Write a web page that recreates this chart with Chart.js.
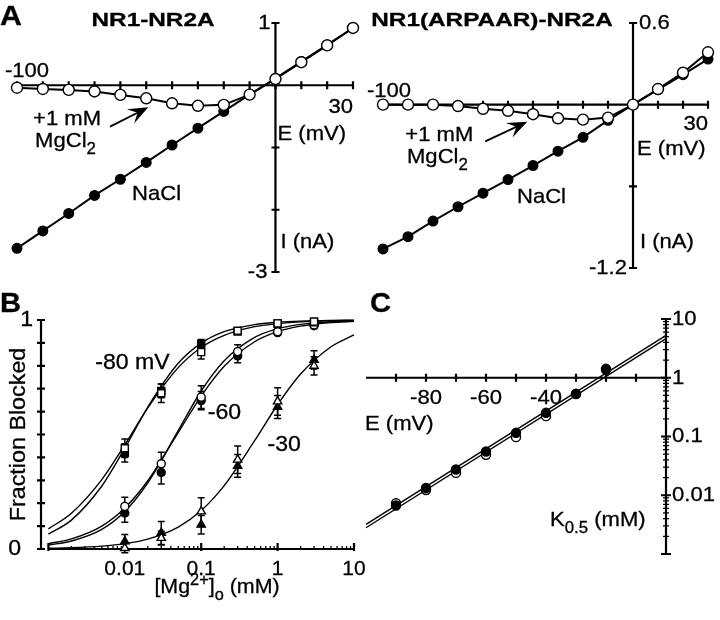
<!DOCTYPE html>
<html>
<head>
<meta charset="utf-8">
<script src="https://cdn.jsdelivr.net/npm/chart.js@4.4.1/dist/chart.umd.min.js"></script>
<style>
  body { margin: 0; background: #fff; width: 720px; height: 620px; overflow: hidden; }
  canvas { position: absolute; left: 0; top: 0; }
</style>
</head>
<body>
<canvas id="ivWt" width="720" height="620"></canvas>
<canvas id="ivMut" width="720" height="620"></canvas>
<canvas id="block" width="720" height="620"></canvas>
<canvas id="kHalf" width="720" height="620"></canvas>
<script>
// Panel A - I-V curves, NaCl alone (filled) and +1 mM MgCl2 (open)
const ivVolt = [-100, -90, -80, -70, -60, -50, -40, -30, -20, -10, 0, 10, 20, 30];
const wtNaCl = [-2.62, -2.34, -2.06, -1.77, -1.51, -1.24, -0.96, -0.69, -0.42, -0.15, 0.11, 0.38, 0.65, 0.92];
const wtMg   = [-0.04, -0.06, -0.075, -0.10, -0.155, -0.21, -0.29, -0.33, -0.315, -0.15, 0.10, 0.37, 0.64, 0.92];
const mutNaCl = [-1.06, -0.97, -0.855, -0.75, -0.65, -0.55, -0.447, -0.342, -0.24, -0.115, 0, 0.11, 0.22, 0.335];
const mutMg   = [0, 0, 0, -0.01, -0.03, -0.045, -0.07, -0.10, -0.11, -0.095, 0, 0.115, 0.235, 0.385];
const ivTicks = [-100, -90, -80, -70, -60, -50, -40, -30, -20, -10, 0, 10, 20, 30];
const wtTicksY = [1, 0, -1, -2, -3];
const mutTicksY = [0.6, 0, -0.6, -1.2];

// Panel B - fraction blocked vs [Mg2+]o (open = NR1-NR2A, filled = ARPAAR)
const mgConc = [0.01, 0.03, 0.1, 0.3, 1, 3];
const b80Open = [0.44, 0.68, 0.86, 0.953, 0.985, 0.993];
const b80Fill = [0.42, 0.69, 0.895, 0.95, 0.985, 0.99];
const b60Open = [0.186, 0.372, 0.663, 0.862, 0.949, 0.978];
const b60Fill = [0.157, 0.334, 0.648, 0.843, 0.945, 0.975];
const b30Open = [0.004, 0.048, 0.164, 0.39, 0.644, 0.80];
const b30Fill = [0.033, 0.07, 0.106, 0.363, 0.62, 0.826];
const e80Open = [0.04, 0.04, 0.03, 0.01, 0.01, 0.01];
const e80Fill = [0.04, 0.03, 0.02, 0.01, 0.01, 0.01];
const e60Open = [0.04, 0.05, 0.05, 0.03, 0.01, 0.01];
const e60Fill = [0.04, 0.05, 0.04, 0.03, 0.01, 0.01];
const e30Open = [0.02, 0.03, 0.06, 0.06, 0.06, 0.04];
const e30Fill = [0.03, 0.05, 0.04, 0.05, 0.05, 0.04];
// fitted curves
const fitConc = [0.001, 0.002, 0.005, 0.01, 0.02, 0.05, 0.1, 0.2, 0.5, 1, 2, 5, 10];
const fit80a = [0.088, 0.156, 0.303, 0.455, 0.616, 0.792, 0.88, 0.933, 0.971, 0.984, 0.992, 0.9965, 0.998];
const fit80b = [0.065, 0.126, 0.275, 0.44, 0.62, 0.811, 0.899, 0.949, 0.98, 0.99, 0.995, 0.998, 0.999];
const fit60a = [0.023, 0.044, 0.10, 0.179, 0.298, 0.508, 0.668, 0.798, 0.905, 0.949, 0.973, 0.989, 0.994];
const fit60b = [0.017, 0.035, 0.086, 0.164, 0.289, 0.517, 0.69, 0.822, 0.924, 0.962, 0.981, 0.993, 0.9965];
const fit30  = [0.003, 0.0053, 0.0124, 0.0233, 0.0433, 0.0958, 0.168, 0.277, 0.473, 0.63, 0.764, 0.883, 0.935];
const blockTicksY = [0, 0.1, 0.2, 0.3, 0.4, 0.5, 0.6, 0.7, 0.8, 0.9, 1];
const decades = [0.001, 0.01, 0.1, 1, 10];
const concLabels = ['0.01', '0.1', '1', '10'];

// Panel C - K0.5 vs voltage
const kVolt = [-90, -80, -70, -60, -50, -40, -30, -20];
const kFill = [0.0067, 0.0133, 0.0274, 0.0555, 0.1155, 0.253, 0.533, 1.37];
const kOpen = [0.0073, 0.0123, 0.024, 0.0487, 0.0975, 0.222, 0.53, 1.42];
const kFitVolt = [-100, 0];
const kFitA = [0.0032, 5.27];
const kFitB = [0.0028, 4.63];
const kTicksX = [-90, -80, -70, -60, -50, -40, -30, -20, -10];
const kLabelsX = [-80, -60, -40];
const kDecades = [0.001, 0.01, 0.1, 1, 10];
const kLabelsY = ['10', '1', '0.1', '0.01'];

const FONT = '"Liberation Sans", Arial, sans-serif';

function pts(xs, ys) {
    return xs.map((v, i) => ({ x: v, y: ys[i] }));
}

// text with optional sub/superscripts, slightly widened and darkened like the scan
function drawText(ctx, parts, x, y, o) {
    o = o || {};
    const size = o.size || 21, sx = o.sx || 1.05;
    const segs = (Array.isArray(parts) ? parts : [parts]).map(p => typeof p === 'string' ? { t: p } : p);
    const fontFor = s => (o.bold ? 'bold ' : '') + (s.sub || s.sup ? Math.round(size * 0.74) : size) + 'px ' + FONT;
    let w = 0;
    segs.forEach(s => { ctx.font = fontFor(s); s.w = ctx.measureText(s.t).width; w += s.w; });
    ctx.save();
    ctx.translate(x, y);
    if (o.rot) ctx.rotate(o.rot);
    ctx.scale(sx, 1);
    ctx.fillStyle = '#000';
    ctx.strokeStyle = '#000';
    ctx.lineWidth = 0.3;
    ctx.textAlign = 'left';
    ctx.textBaseline = o.base || 'alphabetic';
    let cx = o.align === 'right' ? -w : o.align === 'center' ? -w / 2 : 0;
    segs.forEach(s => {
        ctx.font = fontFor(s);
        const dy = s.sub ? size * 0.32 : s.sup ? -size * 0.38 : 0;
        ctx.fillText(s.t, cx, dy);
        ctx.strokeText(s.t, cx, dy);
        cx += s.w;
    });
    ctx.restore();
}

function hAxis(ctx, sx, sy, at, from, to, ticks, up, down) {
    const y = sy.getPixelForValue(at);
    ctx.beginPath();
    if (from !== null) {
        ctx.moveTo(sx.getPixelForValue(from), y);
        ctx.lineTo(sx.getPixelForValue(to), y);
    }
    ticks.forEach(v => {
        const x = sx.getPixelForValue(v);
        ctx.moveTo(x, y - up);
        ctx.lineTo(x, y + down);
    });
    ctx.stroke();
}

function vAxis(ctx, sx, sy, at, from, to, ticks, left, right) {
    const x = sx.getPixelForValue(at);
    ctx.beginPath();
    if (from !== null) {
        ctx.moveTo(x, sy.getPixelForValue(from));
        ctx.lineTo(x, sy.getPixelForValue(to));
    }
    ticks.forEach(v => {
        const y = sy.getPixelForValue(v);
        ctx.moveTo(x - left, y);
        ctx.lineTo(x + right, y);
    });
    ctx.stroke();
}

function minorTicks(decs) {
    const out = [];
    decs.slice(0, -1).forEach(d => { for (let k = 2; k < 10; k++) out.push(d * k); });
    return out;
}

function arrow(ctx, sx, sy, x0, y0, x1, y1) {
    const ax = sx.getPixelForValue(x0), ay = sy.getPixelForValue(y0);
    const bx = sx.getPixelForValue(x1), by = sy.getPixelForValue(y1);
    const a = Math.atan2(by - ay, bx - ax), c = Math.cos(a), s = Math.sin(a);
    const L = 20, W = 8;
    ctx.lineWidth = 1.8;
    ctx.beginPath();
    ctx.moveTo(ax, ay);
    ctx.lineTo(bx - c * 11, by - s * 11);
    ctx.stroke();
    ctx.beginPath();
    ctx.moveTo(bx, by);
    ctx.lineTo(bx - c * L - s * W, by - s * L + c * W);
    ctx.lineTo(bx - c * L * 0.6, by - s * L * 0.6);
    ctx.lineTo(bx - c * L + s * W, by - s * L - c * W);
    ctx.closePath();
    ctx.fill();
}

function errorBars(chart) {
    const ctx = chart.ctx, sx = chart.scales.x, sy = chart.scales.y;
    ctx.lineWidth = 1.5;
    chart.data.datasets.forEach(ds => {
        if (!ds.err) return;
        ds.data.forEach((p, i) => {
            const x = sx.getPixelForValue(p.x);
            const y0 = sy.getPixelForValue(p.y - ds.err[i]), y1 = sy.getPixelForValue(p.y + ds.err[i]);
            ctx.beginPath();
            ctx.moveTo(x, y0); ctx.lineTo(x, y1);
            ctx.moveTo(x - 3.5, y0); ctx.lineTo(x + 3.5, y0);
            ctx.moveTo(x - 3.5, y1); ctx.lineTo(x + 3.5, y1);
            ctx.stroke();
        });
    });
}

function marks(data, style, filled, r, extra) {
    return Object.assign({
        data: data, showLine: false, clip: false,
        pointStyle: style, pointRadius: r,
        pointBackgroundColor: filled ? '#000' : '#fff',
        pointBorderColor: '#000', pointBorderWidth: 1.4
    }, extra || {});
}

function curve(data, w, extra) {
    return Object.assign({
        data: data, showLine: true, clip: false, pointRadius: 0,
        borderColor: '#000', borderWidth: w
    }, extra || {});
}

function panel(id, pad, xOpt, yOpt, datasets, before, after) {
    return new Chart(document.getElementById(id), {
        type: 'scatter',
        data: { datasets: datasets },
        options: {
            responsive: false,
            animation: false,
            events: [],
            layout: { padding: pad },
            plugins: { legend: { display: false }, tooltip: { enabled: false } },
            scales: {
                x: Object.assign({ display: false, bounds: 'data' }, xOpt),
                y: Object.assign({ display: false, bounds: 'data' }, yOpt)
            }
        },
        plugins: [{
            id: 'deco',
            beforeDatasetsDraw(chart) {
                const ctx = chart.ctx;
                ctx.save();
                ctx.strokeStyle = '#000';
                ctx.fillStyle = '#000';
                before(ctx, chart.scales.x, chart.scales.y, chart);
                ctx.restore();
            },
            afterDatasetsDraw(chart) {
                const ctx = chart.ctx;
                ctx.save();
                ctx.strokeStyle = '#000';
                ctx.fillStyle = '#000';
                after(ctx, chart.scales.x, chart.scales.y, chart);
                ctx.restore();
            }
        }]
    });
}

const ivLine = { showLine: true, borderColor: '#000', borderWidth: 2 };

// ---------- A, left: NR1-NR2A ----------
panel('ivWt', { left: 17, right: 367, top: 23, bottom: 348 },
    { type: 'linear', min: -100, max: 30 },
    { type: 'linear', min: -3, max: 1 },
    [
        marks(pts(ivVolt, wtMg), 'circle', false, 5.5, ivLine),
        marks(pts(ivVolt, wtNaCl), 'circle', true, 4.8, ivLine)
    ],
    (ctx, x, y) => {
        ctx.lineWidth = 2.2;
        hAxis(ctx, x, y, 0, -100, 30, ivTicks, 4, 4);
        vAxis(ctx, x, y, 0, -3, 1, wtTicksY, 4, 4);
    },
    (ctx, x, y) => {
        arrow(ctx, x, y, -64, -0.665, -49.2, -0.353);
        const ox = x.getPixelForValue(0), oy = y.getPixelForValue(0);
        drawText(ctx, 'A', 0, 25, { size: 28, bold: true, sx: 1.08 });
        drawText(ctx, 'NR1-NR2A', 153, 26, { size: 19, bold: true, sx: 1.28, align: 'center' });
        drawText(ctx, '-100', x.getPixelForValue(-100) - 12, oy - 8);
        drawText(ctx, '30', x.getPixelForValue(30), oy + 28, { align: 'right' });
        drawText(ctx, '1', ox - 5, y.getPixelForValue(1), { align: 'right', base: 'middle' });
        drawText(ctx, '-3', ox - 8, y.getPixelForValue(-3), { align: 'right', base: 'middle' });
        drawText(ctx, 'E (mV)', ox + 2, oy + 55);
        drawText(ctx, 'I (nA)', ox + 5, oy + 163);
        drawText(ctx, '+1 mM', x.getPixelForValue(-93.8), y.getPixelForValue(-0.64));
        drawText(ctx, ['MgCl', { t: '2', sub: true }], x.getPixelForValue(-93), y.getPixelForValue(-0.99));
        drawText(ctx, 'NaCl', x.getPixelForValue(-55.5), y.getPixelForValue(-1.845));
    });

// ---------- A, right: NR1(ARPAAR)-NR2A ----------
panel('ivMut', { left: 383, right: 12, top: 23, bottom: 352 },
    { type: 'linear', min: -100, max: 30 },
    { type: 'linear', min: -1.2, max: 0.6 },
    [
        marks(pts(ivVolt, mutMg), 'circle', false, 5.5, ivLine),
        marks(pts(ivVolt, mutNaCl), 'circle', true, 4.8, ivLine)
    ],
    (ctx, x, y) => {
        ctx.lineWidth = 2.2;
        hAxis(ctx, x, y, 0, -100, 30, ivTicks, 4, 4);
        vAxis(ctx, x, y, 0, -1.2, 0.6, mutTicksY, 4, 4);
    },
    (ctx, x, y) => {
        arrow(ctx, x, y, -59.1, -0.27, -42.3, -0.125);
        const ox = x.getPixelForValue(0), oy = y.getPixelForValue(0);
        drawText(ctx, 'NR1(ARPAAR)-NR2A', 492, 26, { size: 19, bold: true, sx: 1.28, align: 'center' });
        drawText(ctx, '-100', x.getPixelForValue(-100) - 16, oy - 8);
        drawText(ctx, '30', x.getPixelForValue(30), oy + 25, { align: 'right' });
        drawText(ctx, '0.6', ox + 6, y.getPixelForValue(0.6), { base: 'middle' });
        drawText(ctx, '-1.2', ox - 6, y.getPixelForValue(-1.2), { align: 'right', base: 'middle' });
        drawText(ctx, 'E (mV)', ox + 4, oy + 50);
        drawText(ctx, 'I (nA)', ox + 7, oy + 143);
        drawText(ctx, '+1 mM', x.getPixelForValue(-91.1), y.getPixelForValue(-0.27));
        drawText(ctx, ['MgCl', { t: '2', sub: true }], x.getPixelForValue(-90.4), y.getPixelForValue(-0.427));
        drawText(ctx, 'NaCl', x.getPixelForValue(-46.4), y.getPixelForValue(-0.725));
    });

// ---------- B: dose-response ----------
panel('block', { left: 41, right: 366, top: 320, bottom: 71 },
    { type: 'logarithmic', min: 0.0008, max: 10 },
    { type: 'linear', min: 0, max: 1 },
    [
        marks(pts(mgConc, b80Open), 'rect', false, 5, { err: e80Open }),
        marks(pts(mgConc, b80Fill), 'rect', true, 5, { err: e80Fill }),
        marks(pts(mgConc, b60Open), 'circle', false, 4, { err: e60Open }),
        marks(pts(mgConc, b60Fill), 'circle', true, 4, { err: e60Fill }),
        marks(pts(mgConc, b30Open), 'triangle', false, 4.8, { err: e30Open }),
        marks(pts(mgConc, b30Fill), 'triangle', true, 4.8, { err: e30Fill }),
        curve(pts(fitConc, fit80a), 1.4, { cubicInterpolationMode: 'monotone' }),
        curve(pts(fitConc, fit80b), 1.4, { cubicInterpolationMode: 'monotone' }),
        curve(pts(fitConc, fit60a), 1.4, { cubicInterpolationMode: 'monotone' }),
        curve(pts(fitConc, fit60b), 1.4, { cubicInterpolationMode: 'monotone' }),
        curve(pts(fitConc, fit30), 1.4, { cubicInterpolationMode: 'monotone' })
    ],
    (ctx, x, y, chart) => {
        ctx.lineWidth = 2.2;
        vAxis(ctx, x, y, x.min, 0, 1, blockTicksY, 4, 4);
        hAxis(ctx, x, y, 0, 0.001, 10, decades, 6, 2);
        ctx.lineWidth = 1.3;
        hAxis(ctx, x, y, 0, null, null, minorTicks(decades), 3, 0);
        errorBars(chart);
    },
    (ctx, x, y) => {
        const left = x.getPixelForValue(x.min), oy = y.getPixelForValue(0);
        drawText(ctx, 'B', 0, 312, { size: 27, bold: true, sx: 1.08 });
        drawText(ctx, '0', left - 20, oy, { align: 'right', base: 'middle', size: 22 });
        drawText(ctx, '1', left - 8, y.getPixelForValue(1), { align: 'right', base: 'middle', size: 22 });
        decades.slice(1).forEach((d, i) => {
            drawText(ctx, concLabels[i], x.getPixelForValue(d), oy + 26, { align: 'center', sx: 1.0 });
        });
        drawText(ctx, ['[Mg', { t: '2+', sup: true }, ']', { t: 'o', sub: true }, ' (mM)'], 217, oy + 44, { align: 'center', sx: 1.02 });
        drawText(ctx, 'Fraction Blocked', left - 16, (y.getPixelForValue(0) + y.getPixelForValue(1)) / 2,
            { align: 'center', rot: -Math.PI / 2, size: 22, sx: 1.06 });
        drawText(ctx, '-80 mV', x.getPixelForValue(0.0041), y.getPixelForValue(0.786), { size: 22 });
        drawText(ctx, '-60', x.getPixelForValue(0.1216), y.getPixelForValue(0.568), { size: 22 });
        drawText(ctx, '-30', x.getPixelForValue(0.738), y.getPixelForValue(0.429), { size: 22 });
    });

// ---------- C: K0.5 vs E ----------
panel('kHalf', { left: 366, right: 54, top: 319, bottom: 66 },
    { type: 'linear', min: -100, max: 0 },
    { type: 'logarithmic', min: 0.001, max: 10 },
    [
        marks(pts(kVolt, kFill), 'circle', true, 4.5),
        marks(pts(kVolt, kOpen), 'circle', false, 4.5),
        curve(pts(kFitVolt, kFitA), 1.4),
        curve(pts(kFitVolt, kFitB), 1.4)
    ],
    (ctx, x, y) => {
        ctx.lineWidth = 2.2;
        hAxis(ctx, x, y, 1, -100, 0, kTicksX, 4, 4);
        vAxis(ctx, x, y, 0, 0.001, 10, kDecades, 5, 5);
        ctx.lineWidth = 1.3;
        vAxis(ctx, x, y, 0, null, null, minorTicks(kDecades), 3, 3);
    },
    (ctx, x, y) => {
        const ox = x.getPixelForValue(0), oy = y.getPixelForValue(1);
        drawText(ctx, 'C', 370, 312, { size: 27, bold: true, sx: 1.08 });
        kDecades.slice(1).reverse().forEach((d, i) => {
            drawText(ctx, kLabelsY[i], ox + 6, y.getPixelForValue(d), { base: 'middle' });
        });
        kLabelsX.forEach(v => {
            drawText(ctx, String(v), x.getPixelForValue(v), oy + 26, { align: 'center' });
        });
        drawText(ctx, 'E (mV)', x.getPixelForValue(-100) - 1, oy + 52);
        drawText(ctx, ['K', { t: '0.5', sub: true }, ' (mM)'], 550, y.getPixelForValue(0.003));
    });
</script>
</body>
</html>
